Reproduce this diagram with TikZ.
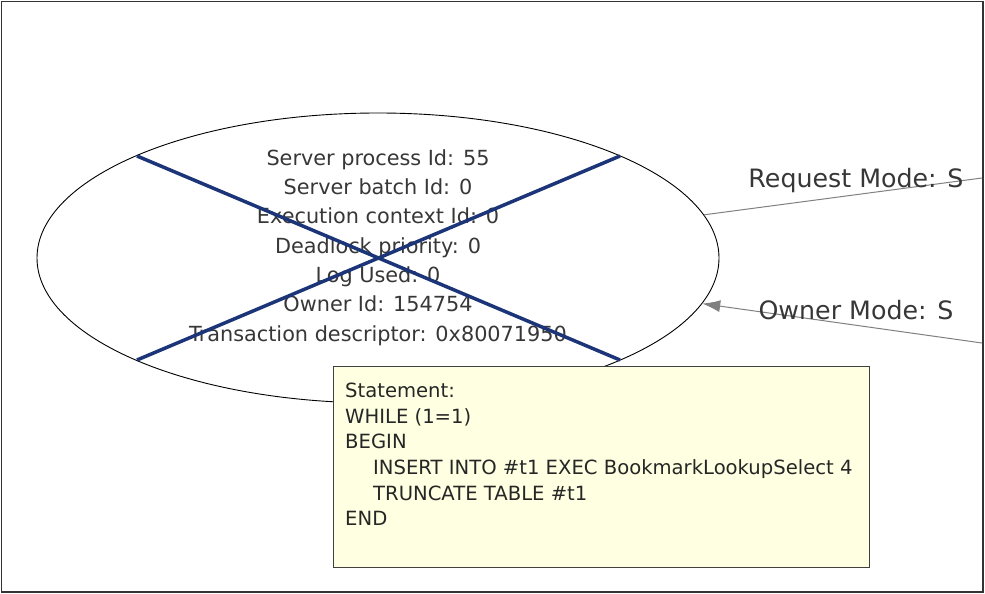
\documentclass[tikz,border=0pt]{standalone}
\usepackage{fontspec}
\setmainfont{DejaVu Sans}
\usetikzlibrary{shapes.geometric,arrows.meta}
\definecolor{crossblue}{RGB}{28,52,120}
\definecolor{tipyellow}{RGB}{255,255,225}
\definecolor{textgray}{RGB}{55,55,55}
\begin{document}
\begin{tikzpicture}[x=1pt,y=-1pt,
  process node/.style={ellipse,draw,line width=0.9pt,minimum width=682pt,minimum height=290pt,inner sep=0pt},
  info text/.style={font=\fontsize{20.8}{29.3}\selectfont,text=textgray,align=center,inner sep=0pt},
  edge label/.style={font=\fontsize{25.3}{28}\selectfont,text=textgray,inner sep=0pt},
  lock edge/.style={draw=gray,line width=1pt},
  tip box/.style={draw=black!75,line width=1pt,fill=tipyellow,anchor=north west,minimum width=536pt,minimum height=201pt},
  stmt text/.style={font=\fontsize{19.6}{25.6}\selectfont,text=black!85,align=left,anchor=north west,inner sep=0pt}]
  \useasboundingbox (0,0) rectangle (985,594);
  \draw[black!80,line width=1.5pt] (1.5,1.5) rectangle (983,592);

  \node[process node] (proc) at (378,258) {};
  \node[info text] (info) at (378,247.5) {Server process Id: 55\\Server batch Id: 0\\Execution context Id: 0\\Deadlock priority: 0\\Log Used: 0\\Owner Id: 154754\\Transaction descriptor: 0x80071950};

  % victim cross
  \coordinate (c1) at (137,156);
  \coordinate (c2) at (620,360);
  \coordinate (c3) at (137,360);
  \coordinate (c4) at (620,156);
  \draw[crossblue,line width=3.5pt] (c1) -- (c2);
  \draw[crossblue,line width=3.5pt] (c3) -- (c4);

  % resource edges
  \coordinate (req) at (982,178);
  \coordinate (own) at (982,343);
  \path[lock edge] (proc) -- (req);
  \path[lock edge,-{Latex[length=18pt,width=12pt]}] (own) -- (proc);
  \node[edge label] (reqlabel) at (856,181) {Request Mode: S};
  \node[edge label] (ownlabel) at (856,310) {Owner Mode: S};

  \node[tip box] (tip) at (333,366) {};
  \node[stmt text] (stmt) at (345,383) {Statement:\\WHILE (1=1)\\BEGIN\\\hspace*{28pt}INSERT INTO \#t1 EXEC BookmarkLookupSelect 4\\\hspace*{28pt}TRUNCATE TABLE \#t1\\END};
\end{tikzpicture}
\end{document}
